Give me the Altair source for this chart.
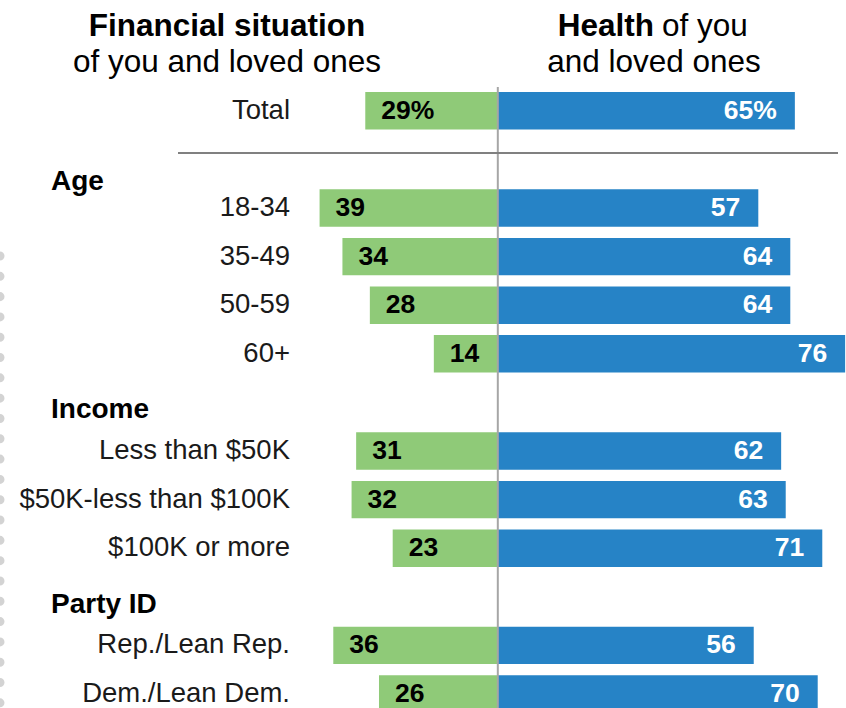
import altair as alt
import pandas as pd

# ---- data ----
categories = ["Total", "18-34", "35-49", "50-59", "60+",
              "Less than $50K", "$50K-less than $100K", "$100K or more",
              "Rep./Lean Rep.", "Dem./Lean Dem."]
financial = [29, 39, 34, 28, 14, 31, 32, 23, 36, 26]
health = [65, 57, 64, 64, 76, 62, 63, 71, 56, 70]
groups = ["Age", "Income", "Party ID"]
slots = ["Total", "Age", "18-34", "35-49", "50-59", "60+",
         "Income", "Less than $50K", "$50K-less than $100K", "$100K or more",
         "Party ID", "Rep./Lean Rep.", "Dem./Lean Dem."]

W, H = 846, 708
FONT = "Liberation Sans"
GREEN = "#8FCA78"
BLUE = "#2683C6"

df = pd.DataFrame({"cat": categories, "fin": financial, "health": health})
df["fin_neg"] = -df["fin"]
df["zero"] = 0
df["fin_lbl"] = [f"{v}%" if c == "Total" else str(v) for c, v in zip(categories, financial)]
df["health_lbl"] = [f"{v}%" if c == "Total" else str(v) for c, v in zip(categories, health)]

xscale = alt.Scale(domain=[-108.93, 76.19], nice=False, zero=False)
yscale = alt.Scale(domain=slots, range=[86.5, 718.3], paddingInner=0.23, paddingOuter=0.115)

base = alt.Chart(df)
Y = alt.Y("cat:N", scale=yscale, axis=None)

green = base.mark_bar(color=GREEN).encode(
    x=alt.X("fin_neg:Q", scale=xscale, axis=None), x2="zero:Q", y=Y)
blue = base.mark_bar(color=BLUE).encode(
    x=alt.X("zero:Q", scale=xscale, axis=None), x2="health:Q", y=Y)

green_txt = base.mark_text(align="left", baseline="middle", dx=16, font=FONT,
                           fontSize=26.5, fontWeight="bold", color="#000000").encode(
    x=alt.X("fin_neg:Q", scale=xscale, axis=None), y=Y, text="fin_lbl:N")
blue_txt = base.mark_text(align="right", baseline="middle", dx=-18, font=FONT,
                          fontSize=26.5, fontWeight="bold", color="#ffffff").encode(
    x=alt.X("health:Q", scale=xscale, axis=None), y=Y, text="health_lbl:N")

cat_txt = base.mark_text(align="right", baseline="middle", font=FONT, fontSize=27.5,
                         color="#1a1a1a").encode(
    x=alt.value(290), y=Y, text="cat:N")

hdr = pd.DataFrame({"cat": groups})
hdr_age = alt.Chart(hdr[hdr.cat == "Age"]).mark_text(
    align="left", baseline="middle", font=FONT, fontSize=28, fontWeight="bold",
    color="#000000", dy=23).encode(x=alt.value(51), y=Y, text="cat:N")
hdr_rest = alt.Chart(hdr[hdr.cat != "Age"]).mark_text(
    align="left", baseline="middle", font=FONT, fontSize=28, fontWeight="bold",
    color="#000000", dy=8).encode(x=alt.value(51), y=Y, text="cat:N")

center_line = alt.Chart(pd.DataFrame({"zero": [0]})).mark_rule(
    color="#A6A6A6", strokeWidth=2).encode(
    x=alt.X("zero:Q", scale=xscale, axis=None), y=alt.value(87), y2=alt.value(H))

sep_line = alt.Chart(pd.DataFrame({"zero": [0]})).mark_rule(
    color="#808080", strokeWidth=2).encode(
    x=alt.value(178), x2=alt.value(838), y=alt.value(153))

dots = alt.Chart(pd.DataFrame({"zero": [0]})).mark_rule(
    color="#D3D3D3", strokeWidth=9, strokeCap="round", strokeDash=[0.01, 20.3]).encode(
    x=alt.value(0), y=alt.value(256), y2=alt.value(H + 10))

title_df = pd.DataFrame({"zero": [0]})
def ttext(txt, x, y, bold, align="center"):
    return alt.Chart(title_df).mark_text(
        text=txt, align=align, baseline="alphabetic", font=FONT, fontSize=31.5,
        fontWeight="bold" if bold else "normal", color="#000000").encode(
        x=alt.value(x), y=alt.value(y))

titles = [
    ttext("Financial situation", 227, 36, True),
    ttext("of you and loved ones", 227, 72, False),
    ttext("Health", 654, 36, True, "right"),
    ttext("of you", 662, 36, False, "left"),
    ttext("and loved ones", 654, 72, False),
]

chart = alt.layer(
    dots, green, blue, center_line, sep_line, green_txt, blue_txt, cat_txt,
    hdr_age, hdr_rest, *titles
).properties(
    width=W, height=H, padding=0, autosize=alt.AutoSizeParams(type="none"),
    background="#ffffff"
).configure_view(strokeWidth=0)

chart.save("out.html", embed_options={"renderer": "svg", "actions": False})
